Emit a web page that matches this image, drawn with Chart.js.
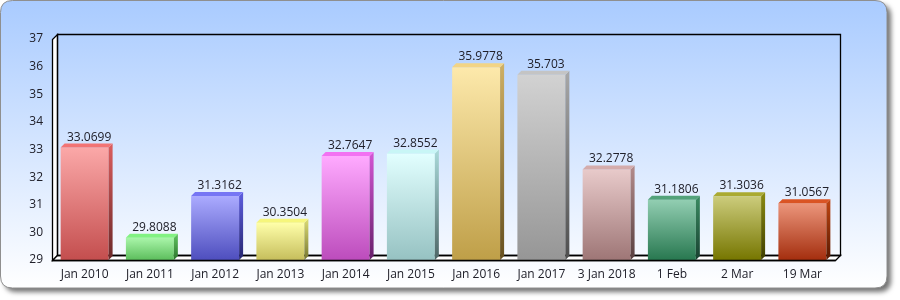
<!DOCTYPE html>
<html><head><meta charset="utf-8">
<script src="https://cdn.jsdelivr.net/npm/chart.js@4"></script>
<style>html,body{margin:0;padding:0;background:#fff}#wrap{width:900px;height:300px}</style>
</head><body><div id="wrap"><canvas id="c" width="900" height="300"></canvas></div>
<script>
const categories = ['Jan 2010','Jan 2011','Jan 2012','Jan 2013','Jan 2014','Jan 2015','Jan 2016','Jan 2017','3 Jan 2018','1 Feb','2 Mar','19 Mar'];
const values = [33.0699, 29.8088, 31.3162, 30.3504, 32.7647, 32.8552, 35.9778, 35.703, 32.2778, 31.1806, 31.3036, 31.0567];
const valueLabels = ['33.0699','29.8088','31.3162','30.3504','32.7647','32.8552','35.9778','35.703','32.2778','31.1806','31.3036','31.0567'];
const yMin = 29, yMax = 37, yStep = 1;

// palette (styles)
const frontLight = ['#fba8a8','#aaf6aa','#ababff','#ffffaa','#ffaaff','#e2ffff','#fde9ab','#d2d2d2','#e8caca','#92ceb2','#cccc7c','#ec967c'];
const frontDark  = ['#c44e4e','#5cbe5c','#4e4ebe','#c6be5c','#bc4cbc','#96c2c2','#bf9f48','#969696','#9e7676','#287850','#767600','#a42e0e'];
const sideLight  = ['#dc5e5e','#62c662','#5e5ee0','#dcdc74','#d456d4','#aadada','#cfb064','#a8a8a8','#b48c8c','#3a8c62','#8c8c12','#c24612'];
const sideDark   = ['#6a2828','#2c742c','#262670','#767630','#66206a','#4e6666','#665020','#4e4e4e','#584040','#184030','#3e3e00','#581800'];
const topFace    = ['#f27474','#82f282','#7676f4','#f6f67c','#f272f2','#c8f6f6','#f2d486','#c4c4c4','#d4acac','#52a27a','#aaaa32','#da5424'];

const FONT = '"Open Sans", sans-serif';
const TEXT = '#20202a';
const BD = 4; // bar depth
const FD = 5; // frame depth

function rr(ctx, x, y, w, h, r) {
  ctx.beginPath();
  ctx.moveTo(x + r, y);
  ctx.lineTo(x + w - r, y); ctx.quadraticCurveTo(x + w, y, x + w, y + r);
  ctx.lineTo(x + w, y + h - r); ctx.quadraticCurveTo(x + w, y + h, x + w - r, y + h);
  ctx.lineTo(x + r, y + h); ctx.quadraticCurveTo(x, y + h, x, y + h - r);
  ctx.lineTo(x, y + r); ctx.quadraticCurveTo(x, y, x + r, y);
  ctx.closePath();
}

const cardPlugin = {
  id: 'card',
  beforeDraw(chart) {
    const ctx = chart.ctx;
    ctx.save();
    ctx.fillStyle = '#fff';
    ctx.fillRect(0, 0, chart.width, chart.height);
    rr(ctx, 0.5, 0.5, 886.5, 287.5, 12);
    ctx.shadowColor = 'rgba(0,0,0,0.55)';
    ctx.shadowBlur = 5;
    ctx.shadowOffsetX = 4;
    ctx.shadowOffsetY = 4;
    const g = ctx.createLinearGradient(0, 0, 0, 288);
    g.addColorStop(0, '#a9cbff');
    g.addColorStop(1, '#ffffff');
    ctx.fillStyle = g;
    ctx.fill();
    ctx.shadowColor = 'transparent';
    ctx.strokeStyle = '#8f8f8f';
    ctx.lineWidth = 1;
    ctx.stroke();
    ctx.restore();
  },
  beforeDatasetsDraw(chart) {
    const ctx = chart.ctx;
    const a = chart.chartArea;
    const L = Math.round(a.left) + 0.5, R = Math.round(a.right) + 0.5;
    const T = Math.round(a.top) + 0.5, B = Math.round(a.bottom) + 0.5;
    ctx.save();
    ctx.lineWidth = 1.3;
    ctx.strokeStyle = '#000';
    ctx.fillStyle = '#fff';
    // left wall
    ctx.beginPath();
    ctx.moveTo(L, B); ctx.lineTo(L, T); ctx.lineTo(L + FD, T - FD); ctx.lineTo(L + FD, B - FD); ctx.closePath();
    ctx.fill(); ctx.stroke();
    // floor
    ctx.beginPath();
    ctx.moveTo(L, B); ctx.lineTo(R, B); ctx.lineTo(R + FD, B - FD); ctx.lineTo(L + FD, B - FD); ctx.closePath();
    ctx.fill(); ctx.stroke();
    // back wall
    ctx.beginPath();
    ctx.rect(L + FD, T - FD, R - L, B - T);
    ctx.stroke();
    ctx.restore();
  },
  afterDatasetsDraw(chart) {
    const ctx = chart.ctx;
    const meta = chart.getDatasetMeta(0);
    const a = chart.chartArea;
    ctx.save();
    meta.data.forEach((bar, i) => {
      const p = bar.getProps(['x', 'y', 'base', 'width'], true);
      const l = p.x - p.width / 2, r = p.x + p.width / 2, t = p.y;
      const b = Math.min(p.base, a.bottom);
      // front
      const gf = ctx.createLinearGradient(0, t, 0, b);
      gf.addColorStop(0, frontLight[i]); gf.addColorStop(1, frontDark[i]);
      ctx.fillStyle = gf;
      ctx.fillRect(l, t, r - l, b - t);
      // side
      const gs = ctx.createLinearGradient(0, t - BD, 0, b);
      gs.addColorStop(0, sideLight[i]); gs.addColorStop(1, sideDark[i]);
      ctx.fillStyle = gs;
      ctx.beginPath();
      ctx.moveTo(r, t); ctx.lineTo(r + BD, t - BD); ctx.lineTo(r + BD, b - BD); ctx.lineTo(r, b); ctx.closePath();
      ctx.fill();
      // top
      ctx.fillStyle = topFace[i];
      ctx.beginPath();
      ctx.moveTo(l, t); ctx.lineTo(l + BD, t - BD); ctx.lineTo(r + BD, t - BD); ctx.lineTo(r, t); ctx.closePath();
      ctx.fill();
      // value label
      ctx.fillStyle = TEXT;
      ctx.font = '12px ' + FONT;
      ctx.textAlign = 'center';
      ctx.textBaseline = 'alphabetic';
      ctx.fillText(valueLabels[i], p.x + 4.5, t - BD - 3);
    });
    // front floor line redrawn on top
    ctx.strokeStyle = '#000';
    ctx.lineWidth = 1.3;
    ctx.beginPath();
    ctx.moveTo(Math.round(a.left) + 0.5, Math.round(a.bottom) + 0.5);
    ctx.lineTo(Math.round(a.right) + 0.5, Math.round(a.bottom) + 0.5);
    ctx.stroke();
    ctx.restore();
  }
};

new Chart(document.getElementById('c'), {
  type: 'bar',
  data: {
    labels: categories,
    datasets: [{
      data: values,
      base: yMin,
      borderWidth: 0,
      backgroundColor: 'rgba(0,0,0,0)',
      categoryPercentage: 1,
      barPercentage: 0.735
    }]
  },
  options: {
    responsive: false,
    animation: false,
    devicePixelRatio: 1,
    layout: { padding: { top: 39, right: 65, left: 0, bottom: 0 } },
    plugins: { legend: { display: false }, tooltip: { enabled: false } },
    scales: {
      x: {
        grid: { display: false, drawTicks: false },
        border: { display: false },
        ticks: { color: TEXT, font: { family: FONT, size: 12 }, padding: 7, maxRotation: 0, autoSkip: false },
        afterFit(s) { s.height = 40; }
      },
      y: {
        min: yMin, max: yMax,
        grid: { display: false, drawTicks: false },
        border: { display: false },
        ticks: { stepSize: yStep, color: TEXT, font: { family: FONT, size: 12 }, padding: 9 },
        afterFit(s) { s.width = 52; }
      }
    }
  },
  plugins: [cardPlugin]
});
</script>
</body></html>
